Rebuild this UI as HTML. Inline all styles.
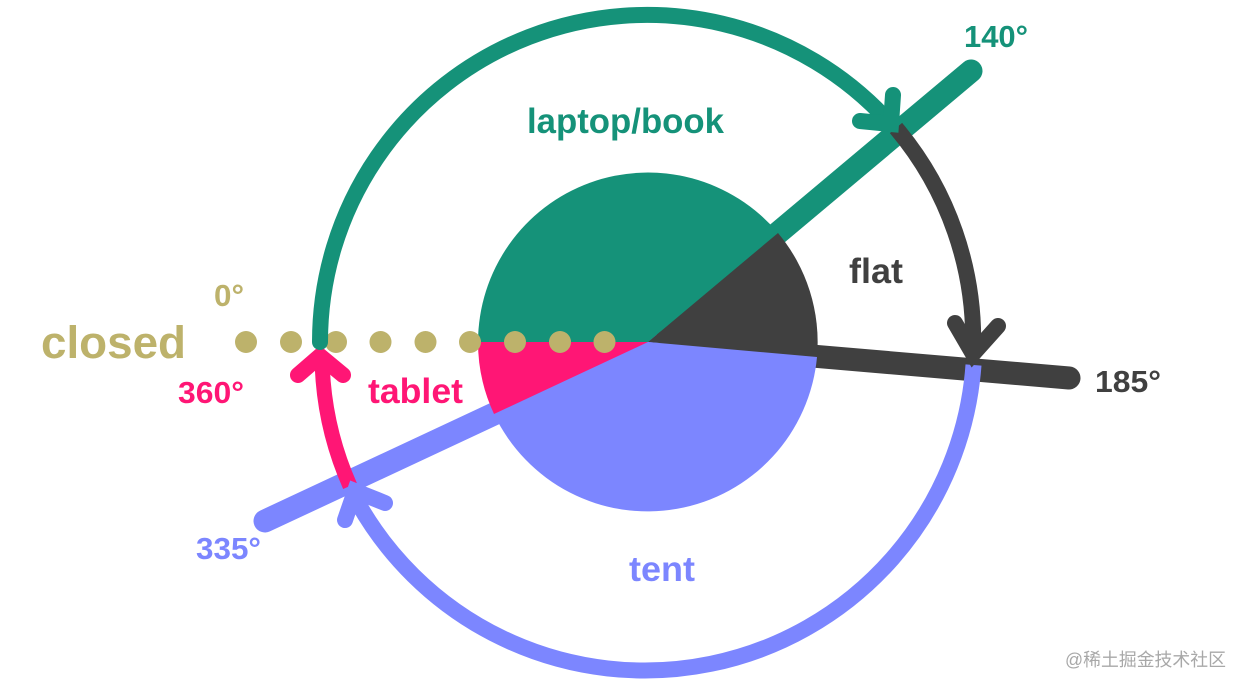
<!DOCTYPE html>
<html><head><meta charset="utf-8"><style>html,body{margin:0;padding:0;background:#fff;width:1246px;height:690px;overflow:hidden}svg{display:block}text{font-family:"Liberation Sans","Noto Sans CJK SC",sans-serif;font-weight:700}</style></head><body>
<svg width="1246" height="690" viewBox="0 0 1246 690" xmlns="http://www.w3.org/2000/svg">
<!-- rays sit beneath the wedges -->
<g fill="none" stroke-linecap="round">
<path d="M648 342L971 71" stroke="#159279" stroke-width="23"/>
<path d="M648 342L1069 378" stroke="#404040" stroke-width="23"/>
<path d="M648 342L265 521" stroke="#7c86ff" stroke-width="23"/>
</g>
<!-- wedges -->
<path d="M648 342L478 342A170 170 0 0 1 778 233Z" fill="#159279"/>
<path d="M648 342L778 233A170 170 0 0 1 817 357Z" fill="#404040"/>
<path d="M648 342L817 357A170 170 0 0 1 494 414Z" fill="#7c86ff"/>
<path d="M648 342L494 414A170 170 0 0 1 478 342Z" fill="#ff1675"/>
<!-- dots -->
<g fill="#bdb26b">
<circle cx="246" cy="342" r="11"/><circle cx="291" cy="342" r="11"/>
<circle cx="336" cy="342" r="11"/><circle cx="380.500" cy="342" r="11"/>
<circle cx="425.500" cy="342" r="11"/><circle cx="470" cy="342" r="11"/>
<circle cx="515" cy="342" r="11"/><circle cx="560" cy="342" r="11"/>
<circle cx="604.500" cy="342" r="11"/>
</g>
<!-- arcs and arrowheads -->
<g fill="none" stroke-linecap="butt" stroke-linejoin="miter">
<path d="M973.500 365A329.500 329.500 0 0 1 352 492" stroke="#7c86ff" stroke-width="16"/>
<path d="M350 486A328 328 0 0 1 322 356" stroke="#ff1675" stroke-width="15"/>
<path d="M298 375L320 356L343 375" stroke="#ff1675" stroke-width="16" stroke-linecap="round"/>
<path d="M345 520L355 491L385 503" stroke="#7c86ff" stroke-width="16" stroke-linecap="round"/>
<path d="M320 342A327 327 0 0 1 889 122" stroke="#159279" stroke-width="16"/>
<circle cx="320" cy="342" r="8" fill="#159279"/>
<path d="M896 128A328 328 0 0 1 973 350" stroke="#404040" stroke-width="16"/>
<path d="M893 95L891 124L860 121" stroke="#159279" stroke-width="16" stroke-linecap="round"/>
<path d="M955 323L973 354L998 326" stroke="#404040" stroke-width="16" stroke-linecap="round"/>
</g>
<!-- labels -->
<text x="527" y="133" font-size="35" fill="#159279" textLength="197" lengthAdjust="spacingAndGlyphs">laptop/book</text>
<text x="964" y="47" font-size="31" fill="#159279" textLength="64" lengthAdjust="spacingAndGlyphs">140°</text>
<text x="849" y="283" font-size="35.500" fill="#404040" textLength="54" lengthAdjust="spacingAndGlyphs">flat</text>
<text x="1095" y="392" font-size="31" fill="#404040" textLength="66" lengthAdjust="spacingAndGlyphs">185°</text>
<text x="214" y="306" font-size="31" fill="#bdb26b" textLength="30" lengthAdjust="spacingAndGlyphs">0°</text>
<text x="41" y="358" font-size="45.500" fill="#bdb26b" textLength="145" lengthAdjust="spacingAndGlyphs">closed</text>
<text x="178" y="403" font-size="31" fill="#ff1675" textLength="66" lengthAdjust="spacingAndGlyphs">360°</text>
<text x="368" y="403" font-size="35.500" fill="#ff1675" textLength="95" lengthAdjust="spacingAndGlyphs">tablet</text>
<text x="196" y="559" font-size="31" fill="#7c86ff" textLength="65" lengthAdjust="spacingAndGlyphs">335°</text>
<text x="629" y="581" font-size="35.500" fill="#7c86ff" textLength="66" lengthAdjust="spacingAndGlyphs">tent</text>
<text x="1065" y="666" font-size="18" fill="#a8a8a8" style="font-weight:400" textLength="161" lengthAdjust="spacingAndGlyphs">@稀土掘金技术社区</text>
</svg>
</body></html>
